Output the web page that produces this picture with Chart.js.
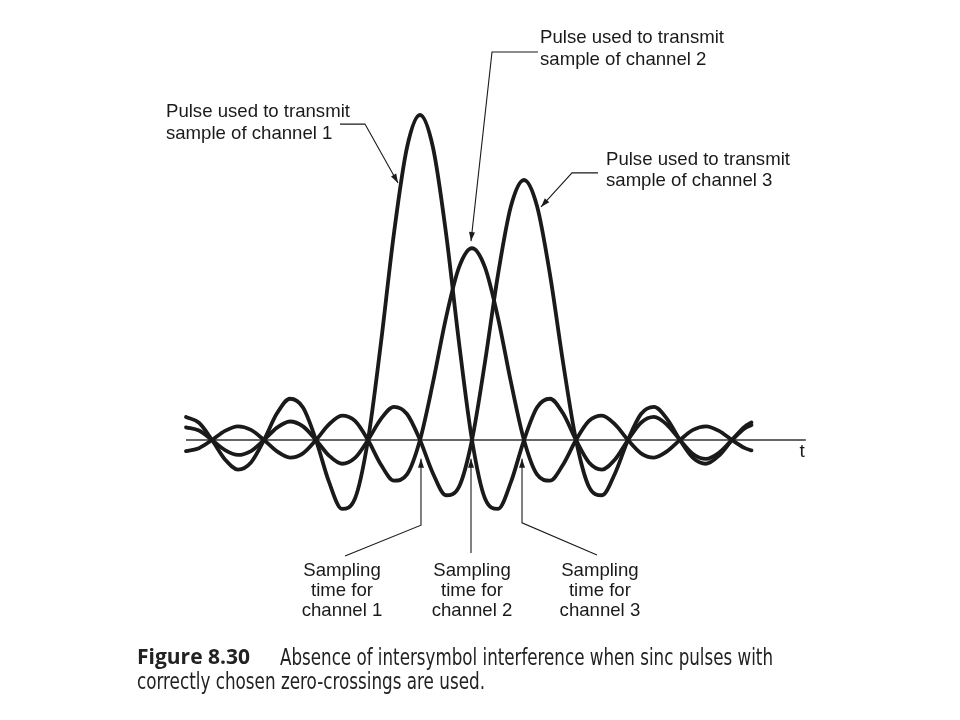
<!DOCTYPE html>
<html>
<head>
<meta charset="utf-8">
<script src="https://cdn.jsdelivr.net/npm/chart.js@4/dist/chart.umd.min.js"></script>
<style>
  html, body { margin: 0; padding: 0; background: #ffffff; }
  #wrap { position: relative; width: 960px; height: 720px; }
  canvas { display: block; }
</style>
</head>
<body>
<div id="wrap"><canvas id="c" width="960" height="720"></canvas></div>
<script>
// ---- data (time in units of the sampling interval T, amplitude relative to pulse 1 peak)
const timeT = [-4.5,-4.25,-4,-3.75,-3.5,-3.25,-3,-2.75,-2.5,-2.25,-2,-1.75,-1.5,-1.25,-1,-0.75,-0.5,-0.25,
  0,0.25,0.5,0.75,1,1.25,1.5,1.75,2,2.25,2.5,2.75,3,3.25,3.5,3.75,4,4.25,4.5,4.75,5,5.25,5.5,5.75,6,6.25,6.375];

const pulseCh1 = [0.071,0.053,0,-0.060,-0.091,-0.069,0,0.082,0.127,0.100,0,-0.129,-0.212,-0.180,0,0.300,0.637,0.900,
  1.000,0.900,0.637,0.300,0,-0.180,-0.212,-0.129,0,0.100,0.127,0.082,0,-0.069,-0.091,-0.060,0,0.053,0.071,0.047,0,-0.043,-0.058,-0.039,0,0.036,0.046];

const pulseCh2 = [-0.034,-0.025,0,0.028,0.042,0.031,0,-0.035,-0.054,-0.041,0,0.048,0.075,0.059,0,-0.076,-0.125,-0.106,
  0,0.177,0.376,0.531,0.590,0.531,0.376,0.177,0,-0.106,-0.125,-0.076,0,0.059,0.075,0.048,0,-0.041,-0.054,-0.035,0,0.031,0.042,0.028,0,-0.025,-0.032];

const pulseCh3 = [0.039,0.029,0,-0.031,-0.046,-0.034,0,0.038,0.057,0.042,0,-0.048,-0.073,-0.055,0,0.065,0.102,0.080,
  0,-0.103,-0.170,-0.144,0,0.240,0.509,0.720,0.800,0.720,0.509,0.240,0,-0.144,-0.170,-0.103,0,0.080,0.102,0.065,0,-0.055,-0.073,-0.048,0,0.042,0.054];

const seriesNames = ['Pulse used to transmit sample of channel 1','Pulse used to transmit sample of channel 2','Pulse used to transmit sample of channel 3'];
const pulseLabels = [
  ['Pulse used to transmit','sample of channel 1'],
  ['Pulse used to transmit','sample of channel 2'],
  ['Pulse used to transmit','sample of channel 3']
];
const samplingLabels = [
  ['Sampling','time for','channel 1'],
  ['Sampling','time for','channel 2'],
  ['Sampling','time for','channel 3']
];
const axisLabel = 't';
const captionBold = 'Figure 8.30';
const captionLines = ['Absence of intersymbol interference when sinc pulses with','correctly chosen zero-crossings are used.'];

// ---- layout (in data units of the chart) ----
const view = { xMin: -8.077, xMax: 10.385, yMin: -0.8615, yMax: 1.3538 };
const axisSpan = [-4.5, 7.42];
const pulseCallouts = [
  { text: [-4.885, 1.009], path: [[-1.538,0.972],[-1.058,0.972],[-0.423,0.791]] },
  { text: [2.308, 1.237],  path: [[2.269,1.194],[1.385,1.194],[0.981,0.612]] },
  { text: [3.577, 0.862],  path: [[3.423,0.822],[2.923,0.822],[2.327,0.717]] }
];
const samplingCallouts = [
  { text: [-1.5, -0.403], path: [[-1.442,-0.357],[0.019,-0.262],[0.019,-0.058]] },
  { text: [1.0, -0.403],  path: [[0.981,-0.348],[0.981,-0.058]] },
  { text: [3.46, -0.403], path: [[3.404,-0.354],[1.962,-0.255],[1.962,-0.058]] }
];
const axisLabelPos = [7.35, -0.037];

const LABEL_FONT = '18.6px "Liberation Sans", Arial, Helvetica, sans-serif';
const INK = '#1a1a1a';

function arrowHead(ctx, x0, y0, x1, y1) {
  const ang = Math.atan2(y1 - y0, x1 - x0);
  const len = 9, half = 3;
  ctx.beginPath();
  ctx.moveTo(x1, y1);
  ctx.lineTo(x1 - len*Math.cos(ang) + half*Math.sin(ang), y1 - len*Math.sin(ang) - half*Math.cos(ang));
  ctx.lineTo(x1 - len*Math.cos(ang) - half*Math.sin(ang), y1 - len*Math.sin(ang) + half*Math.cos(ang));
  ctx.closePath();
  ctx.fill();
}

const decorPlugin = {
  id: 'decor',
  beforeDatasetsDraw(chart) {
    const {ctx, scales: {x, y}} = chart;
    ctx.save();
    ctx.strokeStyle = '#333';
    ctx.lineWidth = 1.4;
    ctx.beginPath();
    ctx.moveTo(x.getPixelForValue(axisSpan[0]), y.getPixelForValue(0));
    ctx.lineTo(x.getPixelForValue(axisSpan[1]), y.getPixelForValue(0));
    ctx.stroke();
    ctx.restore();
  },
  afterDatasetsDraw(chart) {
    const {ctx, scales: {x, y}} = chart;
    const P = p => [x.getPixelForValue(p[0]), y.getPixelForValue(p[1])];
    ctx.save();
    ctx.strokeStyle = INK;
    ctx.fillStyle = INK;
    ctx.lineWidth = 1.1;
    const drawPath = (path) => {
      const pts = path.map(P);
      ctx.beginPath();
      ctx.moveTo(pts[0][0], pts[0][1]);
      for (let i = 1; i < pts.length; i++) ctx.lineTo(pts[i][0], pts[i][1]);
      ctx.stroke();
      const a = pts[pts.length-2], b = pts[pts.length-1];
      arrowHead(ctx, a[0], a[1], b[0], b[1]);
    };
    ctx.font = LABEL_FONT;
    ctx.textBaseline = 'middle';
    pulseCallouts.forEach((c, i) => {
      drawPath(c.path);
      const [tx, ty] = P(c.text);
      ctx.textAlign = 'left';
      pulseLabels[i].forEach((ln, k) => ctx.fillText(ln, tx, ty + k*21.5));
    });
    samplingCallouts.forEach((c, i) => {
      drawPath(c.path);
      const [tx, ty] = P(c.text);
      ctx.textAlign = 'center';
      samplingLabels[i].forEach((ln, k) => ctx.fillText(ln, tx, ty + k*20));
    });
    const [ax, ay] = P(axisLabelPos);
    ctx.textAlign = 'center';
    ctx.font = '19px "Liberation Sans", Arial, sans-serif';
    ctx.fillText(axisLabel, ax, ay);
    // caption
    ctx.fillStyle = '#222';
    ctx.textAlign = 'left';
    ctx.font = 'bold 21px "Open Sans", "Noto Sans", sans-serif';
    ctx.fillText(captionBold, 137, 658, 117);
    ctx.font = '23px "Liberation Sans Narrow", "DejaVu Sans Condensed", "Liberation Sans", sans-serif';
    ctx.fillText(captionLines[0], 280, 659, 493);
    ctx.fillText(captionLines[1], 137, 683, 348);
    ctx.restore();
  }
};

const mk = (vals) => timeT.map((t, i) => ({x: t, y: vals[i]}));
const lineStyle = {
  borderColor: INK, borderWidth: 3.8, pointRadius: 0, fill: false,
  cubicInterpolationMode: 'monotone', borderCapStyle: 'round', borderJoinStyle: 'round'
};

new Chart(document.getElementById('c'), {
  type: 'line',
  data: {
    datasets: [
      Object.assign({label: seriesNames[0], data: mk(pulseCh1)}, lineStyle),
      Object.assign({label: seriesNames[1], data: mk(pulseCh2)}, lineStyle),
      Object.assign({label: seriesNames[2], data: mk(pulseCh3)}, lineStyle)
    ]
  },
  options: {
    responsive: false,
    devicePixelRatio: 1,
    animation: false,
    layout: { padding: 0 },
    plugins: { legend: { display: false }, title: { display: false }, tooltip: { enabled: false } },
    scales: {
      x: { type: 'linear', min: view.xMin, max: view.xMax, display: false },
      y: { type: 'linear', min: view.yMin, max: view.yMax, display: false }
    }
  },
  plugins: [decorPlugin]
});
</script>
</body>
</html>
